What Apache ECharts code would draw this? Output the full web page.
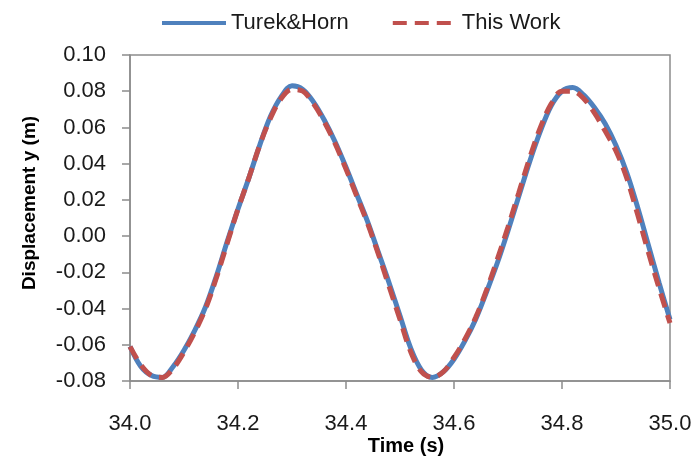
<!DOCTYPE html>
<html>
<head>
<meta charset="utf-8">
<script src="https://cdn.jsdelivr.net/npm/echarts@6/dist/echarts.min.js"></script>
<style>html,body{margin:0;padding:0;background:#fff}#c{width:696px;height:465px}</style>
</head>
<body>
<div id="c"></div>
<script>
var times = [34.00,34.02,34.04,34.06,34.08,34.10,34.12,34.14,34.16,34.18,34.20,34.22,34.24,34.26,34.28,34.30,34.32,34.34,34.36,34.38,34.40,34.42,34.44,34.46,34.48,34.50,34.52,34.54,34.56,34.58,34.60,34.62,34.64,34.66,34.68,34.70,34.72,34.74,34.76,34.78,34.80,34.82,34.84,34.86,34.88,34.90,34.92,34.94,34.96,34.98,35.00];
var turekHorn = [-0.061,-0.072,-0.077,-0.078,-0.072,-0.063,-0.052,-0.039,-0.022,-0.003,0.015,0.032,0.050,0.066,0.077,0.083,0.081,0.074,0.064,0.052,0.038,0.023,0.008,-0.009,-0.026,-0.044,-0.062,-0.074,-0.078,-0.075,-0.068,-0.058,-0.046,-0.031,-0.015,0.003,0.022,0.041,0.058,0.072,0.080,0.082,0.078,0.071,0.062,0.050,0.035,0.016,-0.005,-0.026,-0.046];
var thisWork = [-0.061,-0.071,-0.077,-0.078,-0.073,-0.064,-0.053,-0.040,-0.023,-0.004,0.015,0.032,0.050,0.065,0.076,0.081,0.080,0.073,0.063,0.051,0.037,0.022,0.007,-0.010,-0.028,-0.046,-0.064,-0.075,-0.078,-0.075,-0.067,-0.057,-0.045,-0.030,-0.013,0.005,0.024,0.043,0.060,0.073,0.080,0.080,0.076,0.068,0.058,0.047,0.032,0.012,-0.009,-0.029,-0.048];
var seriesNames = ['Turek&Horn', 'This Work'];
var xTitle = 'Time (s)';
var yTitle = 'Displacement y (m)';

function pairs(xs, ys){ return xs.map(function(x,i){ return [x, ys[i]]; }); }

var chart = echarts.init(document.getElementById('c'), null, {renderer:'canvas'});
var FONT = 'Liberation Sans';
var axisGray = '#8c8c8c';
chart.setOption({
  animation: false,
  backgroundColor: '#ffffff',
  textStyle: {fontFamily: FONT},
  grid: {left: 130, top: 55, width: 540, height: 326, show: true, borderColor: axisGray, borderWidth: 1.5, backgroundColor: 'transparent'},
  legend: {
    left: 155, top: 7, itemWidth: 64, itemHeight: 14, itemGap: 42,
    itemStyle: {opacity: 0},
    lineStyle: {width: 4},
    textStyle: {fontFamily: FONT, fontSize: 22, color: '#1a1a1a'},
    data: seriesNames
  },
  xAxis: {
    type: 'value', min: 34, max: 35, interval: 0.2,
    axisLine: {show: true, onZero: false, lineStyle: {color: axisGray, width: 1.5}},
    axisTick: {show: true, inside: false, length: 8, lineStyle: {color: axisGray, width: 1.5}},
    axisLabel: {margin: 32, fontSize: 22, color: '#1a1a1a', fontFamily: FONT, formatter: function(v){ return v.toFixed(1); }},
    splitLine: {show: false}
  },
  yAxis: {
    type: 'value', min: -0.08, max: 0.10, interval: 0.02,
    axisLine: {show: true, onZero: false, lineStyle: {color: axisGray, width: 1.5}},
    axisTick: {show: true, inside: false, length: 8, lineStyle: {color: axisGray, width: 1.5}},
    axisLabel: {margin: 24, fontSize: 22, color: '#1a1a1a', fontFamily: FONT, formatter: function(v){ return v.toFixed(2); }},
    splitLine: {show: false}
  },
  graphic: [
    {type: 'text', x: 406, y: 446, style: {text: xTitle, font: 'bold 20px "Liberation Sans"', fill: '#000', align: 'center', verticalAlign: 'middle'}},
    {type: 'text', x: 30, y: 203, rotation: Math.PI/2, style: {text: yTitle, font: 'bold 19px "Liberation Sans"', fill: '#000', align: 'center', verticalAlign: 'middle'}}
  ],
  series: [
    {name: seriesNames[0], type: 'line', data: pairs(times, turekHorn), smooth: 0.35, showSymbol: false, symbol: 'none',
     lineStyle: {color: '#4F81BD', width: 5}, itemStyle: {color: '#4F81BD'}},
    {name: seriesNames[1], type: 'line', data: pairs(times, thisWork), smooth: 0.35, showSymbol: false, symbol: 'none',
     lineStyle: {color: '#C0504D', width: 5, type: [14, 8]}, itemStyle: {color: '#C0504D'}}
  ]
});
</script>
</body>
</html>
